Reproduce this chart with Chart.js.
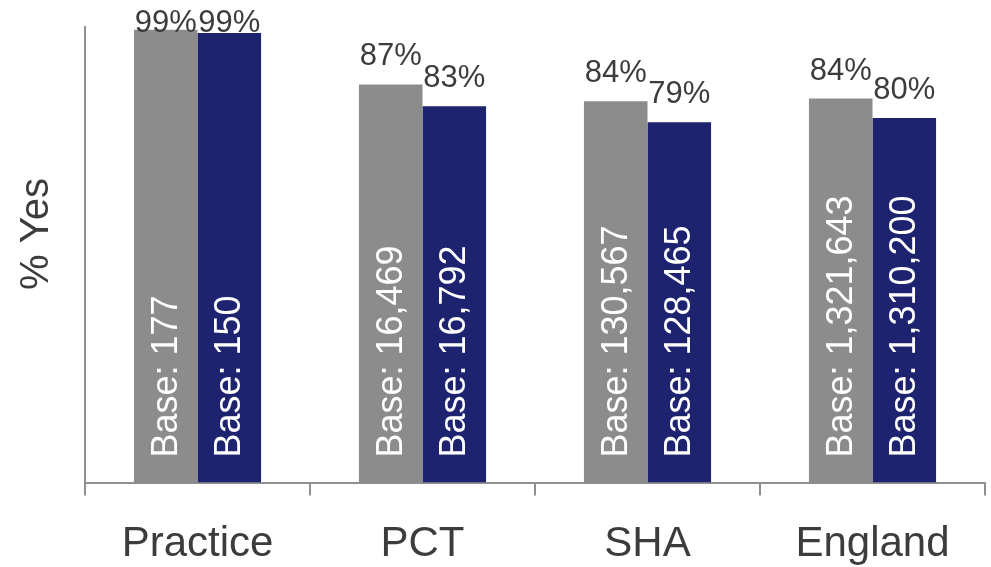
<!DOCTYPE html>
<html>
<head>
<meta charset="utf-8">
<script src="https://cdn.jsdelivr.net/npm/chart.js@4"></script>
<style>
  html, body { margin: 0; padding: 0; background: #fff; }
  #wrap { width: 991px; height: 567px; }
</style>
</head>
<body>
<div id="wrap"><canvas id="chart" width="991" height="567"></canvas></div>
<script>
const categories = ["Practice", "PCT", "SHA", "England"];
const previousYes = [99.4, 87.4, 83.7, 84.3];
const currentYes = [98.7, 82.6, 79.1, 80.0];
const previousBase = [177, 16469, 130567, 1321643];
const currentBase = [150, 16792, 128465, 1310200];

const FONT = "'Liberation Sans', Arial, sans-serif";
const TEXT = "#3c3c3c";
const AXIS = "#8f8f8f";

const barLabels = {
  id: "barLabels",
  afterDatasetsDraw(chart) {
    const ctx = chart.ctx;
    const bases = [previousBase, currentBase];
    const bottom = chart.scales.y.bottom;
    chart.data.datasets.forEach((ds, di) => {
      chart.getDatasetMeta(di).data.forEach((bar, i) => {
        ctx.save();
        ctx.fillStyle = TEXT;
        ctx.font = "31px " + FONT;
        ctx.textAlign = "center";
        ctx.textBaseline = "alphabetic";
        ctx.fillText(Math.round(ds.data[i]) + "%", bar.x, Math.max(bar.y - 19, 32));

        ctx.translate(bar.x, bottom - 25);
        ctx.rotate(-Math.PI / 2);
        ctx.fillStyle = "#ffffff";
        ctx.font = "36px " + FONT;
        ctx.textAlign = "left";
        ctx.textBaseline = "middle";
        ctx.fillText("Base: " + bases[di][i].toLocaleString("en-GB"), 0, 1);
        ctx.restore();
      });
    });
  }
};

const yTitle = {
  id: "yTitle",
  afterDraw(chart) {
    const ctx = chart.ctx;
    ctx.save();
    ctx.translate(37, 234);
    ctx.rotate(-Math.PI / 2);
    ctx.fillStyle = TEXT;
    ctx.font = "40px " + FONT;
    ctx.textAlign = "center";
    ctx.textBaseline = "middle";
    ctx.fillText("% Yes", 0, 0);
    ctx.restore();
  }
};

new Chart(document.getElementById("chart"), {
  type: "bar",
  data: {
    labels: categories,
    datasets: [
      { data: previousYes, backgroundColor: "#8c8c8c" },
      { data: currentYes, backgroundColor: "#1e2370" }
    ]
  },
  options: {
    responsive: false,
    animation: false,
    events: [],
    layout: { padding: { left: 77, top: 27, right: 6, bottom: -27 } },
    datasets: { bar: { categoryPercentage: 0.565, barPercentage: 1 } },
    plugins: { legend: { display: false }, tooltip: { enabled: false } },
    scales: {
      x: {
        grid: { offset: true, drawOnChartArea: false, drawTicks: true, tickLength: 13, color: AXIS, lineWidth: 2 },
        border: { color: AXIS, width: 2 },
        ticks: { color: TEXT, font: { family: FONT, size: 42 }, padding: 24 }
      },
      y: {
        min: 0,
        max: 100,
        grid: { display: false },
        border: { display: true, color: AXIS, width: 2 },
        ticks: { display: false }
      }
    }
  },
  plugins: [barLabels, yTitle]
});
</script>
</body>
</html>
